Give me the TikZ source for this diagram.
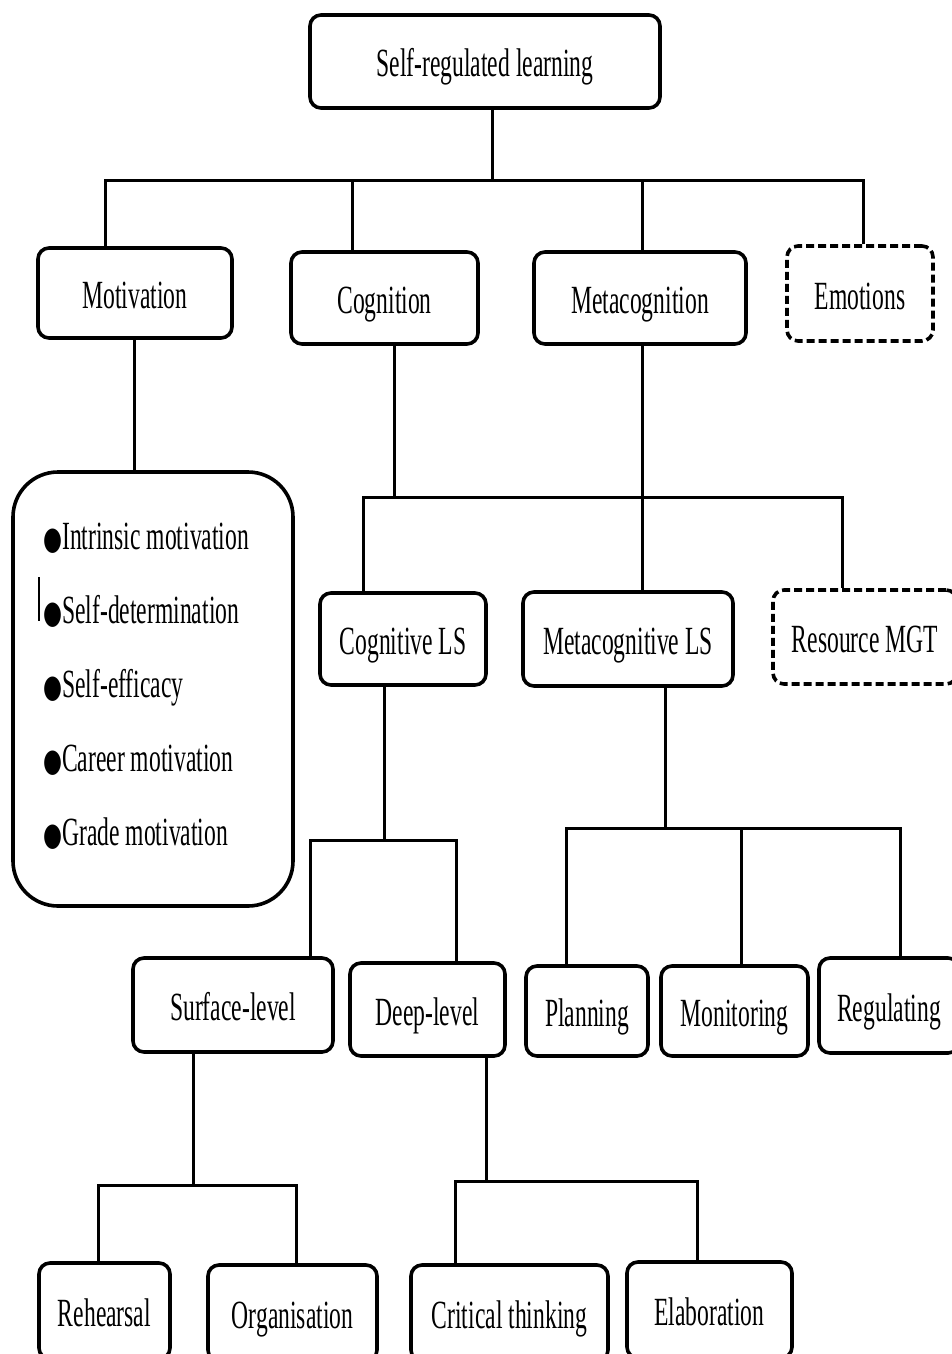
\documentclass[tikz,border=0pt]{standalone}
\usepackage{fontspec}
\setmainfont{Liberation Serif}[FakeStretch=0.59]
\newfontfamily\bulfont{DejaVu Sans}[FakeStretch=0.68]
\newcommand{\bul}{{\bulfont\fontsize{32}{32}\selectfont ●}}
\begin{document}
\begin{tikzpicture}[x=1pt,y=-1pt,
  bx/.style={draw, line width=3.6pt, rounded corners=11pt, inner sep=0pt, align=center,
    font=\fontsize{40}{44}\selectfont, text height=31pt, text depth=0pt},
  dbx/.style={bx, dash pattern=on 8pt off 4pt},
  ln/.style={line width=3pt}]
\useasboundingbox (0,0) rectangle (952,1354);
\clip (0,0) rectangle (952,1354);
% top
\node[bx, minimum width=350pt, minimum height=93pt] (srl) at (485,61.5) {Self-regulated learning};
\node[bx, minimum width=194pt, minimum height=90pt] (mot) at (135,293) {Motivation};
\node[bx, minimum width=187pt, minimum height=92pt] (cog) at (384.5,298) {Cognition};
\node[bx, minimum width=212pt, minimum height=92pt] (meta) at (640,298) {Metacognition};
\node[dbx, minimum width=146pt, minimum height=95pt] (emo) at (860,293.5) {Emotions};
% motivation list
\node[draw, line width=3.6pt, rounded corners=45pt, minimum width=280pt, minimum height=434pt] (list) at (153,689) {};
\node[anchor=west, align=left, inner sep=0pt, font=\fontsize{40}{74}\selectfont] (items) at (43,686)
  {\bul Intrinsic motivation\\\bul Self-determination\\\bul Self-efficacy\\\bul Career motivation\\\bul Grade motivation};
\coordinate (tick1) at (39,577);
\coordinate (tick2) at (39,621);
\draw[line width=1.2pt] (tick1) -- (tick2);
% second level
\node[bx, minimum width=166pt, minimum height=92pt] (cls) at (403,639) {Cognitive LS};
\node[bx, minimum width=210pt, minimum height=94pt] (mls) at (628,639) {Metacognitive LS};
\node[dbx, minimum width=184pt, minimum height=94pt] (res) at (865,637) {Resource MGT};
% third level
\node[bx, minimum width=200pt, minimum height=94pt] (surf) at (233,1005) {Surface-level};
\node[bx, minimum width=155pt, minimum height=93pt] (deep) at (427.5,1009.5) {Deep-level};
\node[bx, minimum width=122pt, minimum height=90pt] (plan) at (587,1011) {Planning};
\node[bx, minimum width=147pt, minimum height=90pt] (mon) at (734.5,1011) {Monitoring};
\node[bx, minimum width=140pt, minimum height=95pt] (reg) at (889,1005.5) {Regulating};
% bottom level
\node[bx, minimum width=131pt, minimum height=96pt] (reh) at (104.5,1311) {Rehearsal};
\node[bx, minimum width=169pt, minimum height=96pt] (org) at (292.5,1313) {Organisation};
\node[bx, minimum width=197pt, minimum height=96pt] (crit) at (509.5,1313) {Critical thinking};
\node[bx, minimum width=165pt, minimum height=96pt] (elab) at (709.5,1310) {Elaboration};
% connectors: top bus
\draw[ln] (srl.south -| 492,0) -- (492,180);
\draw[ln] (mot.north -| 105,0) -- (105,180) -- (863,180) -- (emo.north -| 863,0);
\draw[ln] (352,180) -- (cog.north -| 352,0);
\draw[ln] (642,180) -- (meta.north -| 642,0);
\draw[ln] (mot.south -| 134,0) -- (list.north -| 134,0);
% cognition / metacognition bus
\draw[ln] (cog.south -| 394,0) -- (394,497);
\draw[ln] (cls.north -| 363,0) -- (363,497) -- (842,497) -- (res.north -| 842,0);
\draw[ln] (meta.south -| 642,0) -- (mls.north -| 642,0);
% cognitive LS
\draw[ln] (cls.south -| 384,0) -- (384,840);
\draw[ln] (surf.north -| 310,0) -- (310,840) -- (456,840) -- (deep.north -| 456,0);
% metacognitive LS
\draw[ln] (mls.south -| 665,0) -- (665,828);
\draw[ln] (plan.north -| 566,0) -- (566,828) -- (900,828) -- (reg.north -| 900,0);
\draw[ln] (741,828) -- (mon.north -| 741,0);
% surface-level
\draw[ln] (surf.south -| 193,0) -- (193,1185);
\draw[ln] (reh.north -| 98,0) -- (98,1185) -- (296,1185) -- (org.north -| 296,0);
% deep-level
\draw[ln] (deep.south -| 486,0) -- (486,1181);
\draw[ln] (crit.north -| 455,0) -- (455,1181) -- (697,1181) -- (elab.north -| 697,0);
\end{tikzpicture}
\end{document}
